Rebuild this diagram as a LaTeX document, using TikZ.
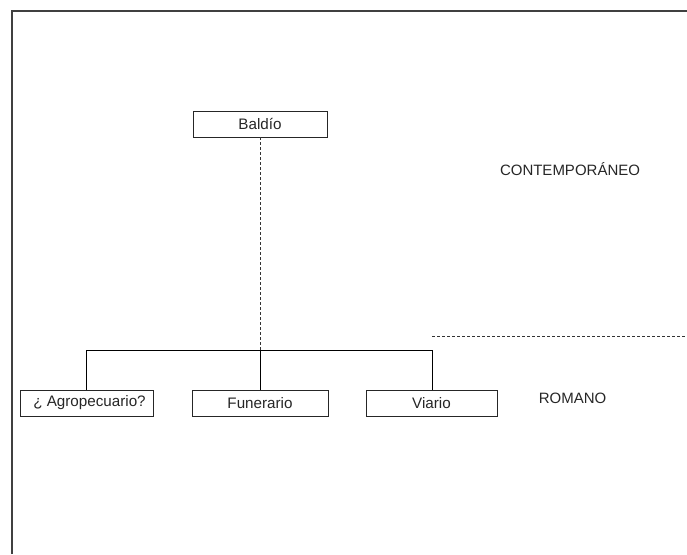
\documentclass[tikz,border=0pt]{standalone}
\usepackage{fontspec}
\setmainfont{Liberation Sans}
\begin{document}
\begin{tikzpicture}[x=1pt,y=-1pt,
  box/.style={draw=black!85,line width=0.9pt,minimum height=26pt,inner sep=0pt,font=\fontsize{15.2}{18}\selectfont,text=black!85},
  lbl/.style={font=\fontsize{15}{18}\selectfont,text=black!85,inner sep=0pt},
  conn/.style={draw=black,line width=0.9pt},
  dashline/.style={draw=black!80,line width=0.8pt,dash pattern=on 3pt off 2pt}]
\useasboundingbox (0,0) rectangle (687,554);
\draw[draw=black!75,line width=1.6pt] (12,554) -- (12,11) -- (687,11);
\node[box,minimum width=134pt] (baldio) at (260,124) {Baldío};
\node[box,minimum width=133pt] (agro) at (86.5,403) {\hspace{6pt}¿ Agropecuario?};
\node[box,minimum width=136pt] (fun) at (260,403.5) {Funerario};
\node[box,minimum width=131pt] (via) at (431.5,403.5) {Viario};
\node[lbl] (cont) at (570,169) {CONTEMPORÁNEO};
\node[lbl] (rom) at (572.5,398.5) {ROMANO};
\coordinate (h1) at (86,350);
\coordinate (h2) at (432,350);
\coordinate (hc) at (260,350);
\coordinate (d1) at (432,336);
\coordinate (d2) at (687,336);
\draw[dashline] (baldio.south) -- (hc);
\draw[conn] (agro.north -| h1) -- (h1) -- (h2) -- (via.north -| h2);
\draw[conn] (hc) -- (fun.north);
\draw[dashline] (d1) -- (d2);
\end{tikzpicture}
\end{document}
